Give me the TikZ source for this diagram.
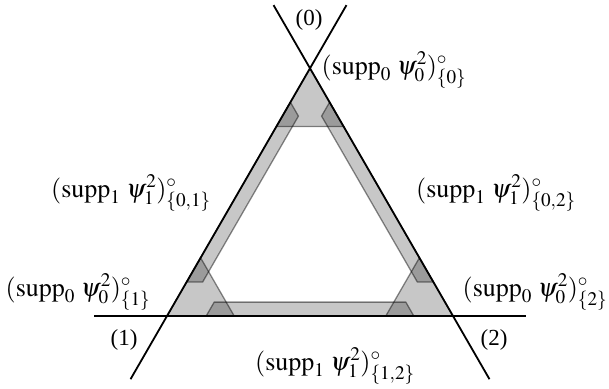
\documentclass[tikz,border=0pt]{standalone}
\usepackage{mathptmx}
\usepackage{fontspec}
\setmainfont{Liberation Serif}
\usetikzlibrary{calc}
\begin{document}
\begin{tikzpicture}[x=1pt,y=-1pt,
  region/.style={fill=black, fill opacity=0.22, draw=black, draw opacity=0.45, line width=1.3pt, line join=miter},
  edgeline/.style={line width=1.8pt, black},
  lbl/.style={font=\fontsize{26}{30}\selectfont, inner sep=0pt},
  idx/.style={font=\fontsize{23}{27}\selectfont, inner sep=0pt}]
\useasboundingbox (0,0) rectangle (609,388);
\coordinate (V0) at (310,68.3);
\coordinate (V1) at (167,316);
\coordinate (V2) at (453,316);
% corner regions
\draw[region] (V0) -- (barycentric cs:V0=0.765,V1=0.235,V2=0) -- (barycentric cs:V0=0.765,V1=0,V2=0.235) -- cycle;
\draw[region] (V1) -- (barycentric cs:V1=0.765,V0=0.235,V2=0) -- (barycentric cs:V1=0.765,V0=0,V2=0.235) -- cycle;
\draw[region] (V2) -- (barycentric cs:V2=0.765,V0=0.235,V1=0) -- (barycentric cs:V2=0.765,V0=0,V1=0.235) -- cycle;
% edge strips
\draw[region] (barycentric cs:V0=0.863,V1=0.137,V2=0) -- (barycentric cs:V0=0.137,V1=0.863,V2=0) -- (barycentric cs:V0=0.137,V1=0.807,V2=0.056) -- (barycentric cs:V0=0.807,V1=0.137,V2=0.056) -- cycle;
\draw[region] (barycentric cs:V0=0.863,V2=0.137,V1=0) -- (barycentric cs:V0=0.137,V2=0.863,V1=0) -- (barycentric cs:V0=0.137,V2=0.807,V1=0.056) -- (barycentric cs:V0=0.807,V2=0.137,V1=0.056) -- cycle;
\draw[region] (barycentric cs:V1=0.863,V2=0.137,V0=0) -- (barycentric cs:V1=0.137,V2=0.863,V0=0) -- (barycentric cs:V1=0.137,V2=0.807,V0=0.056) -- (barycentric cs:V1=0.807,V2=0.137,V0=0.056) -- cycle;
% lines
\coordinate (A1) at ($(V1)!-0.255!(V0)$);
\coordinate (A0) at ($(V0)!-0.255!(V1)$);
\coordinate (B2) at ($(V2)!-0.255!(V0)$);
\coordinate (B0) at ($(V0)!-0.255!(V2)$);
\coordinate (C1) at ($(V1)!-0.255!(V2)$);
\coordinate (C2) at ($(V2)!-0.255!(V1)$);
\draw[edgeline] (A1) -- (A0);
\draw[edgeline] (B2) -- (B0);
\draw[edgeline] (C1) -- (C2);
% labels
\node[idx] (n0) at (309,20) {(0)};
\node[idx] (n1) at (124,340) {(1)};
\node[idx] (n2) at (494,340) {(2)};
\node[lbl] (s0) at (394,70) {$(\mathrm{supp}_0\;\psi_0^2)^\circ_{\{0\}}$};
\node[lbl] (s02) at (496,193) {$(\mathrm{supp}_1\;\psi_1^2)^\circ_{\{0,2\}}$};
\node[lbl] (s2) at (535,292) {$(\mathrm{supp}_0\;\psi_0^2)^\circ_{\{2\}}$};
\node[lbl] (s01) at (131,193) {$(\mathrm{supp}_1\;\psi_1^2)^\circ_{\{0,1\}}$};
\node[lbl] (s1) at (78,292) {$(\mathrm{supp}_0\;\psi_0^2)^\circ_{\{1\}}$};
\node[lbl] (s12) at (335,366) {$(\mathrm{supp}_1\;\psi_1^2)^\circ_{\{1,2\}}$};
\end{tikzpicture}
\end{document}
